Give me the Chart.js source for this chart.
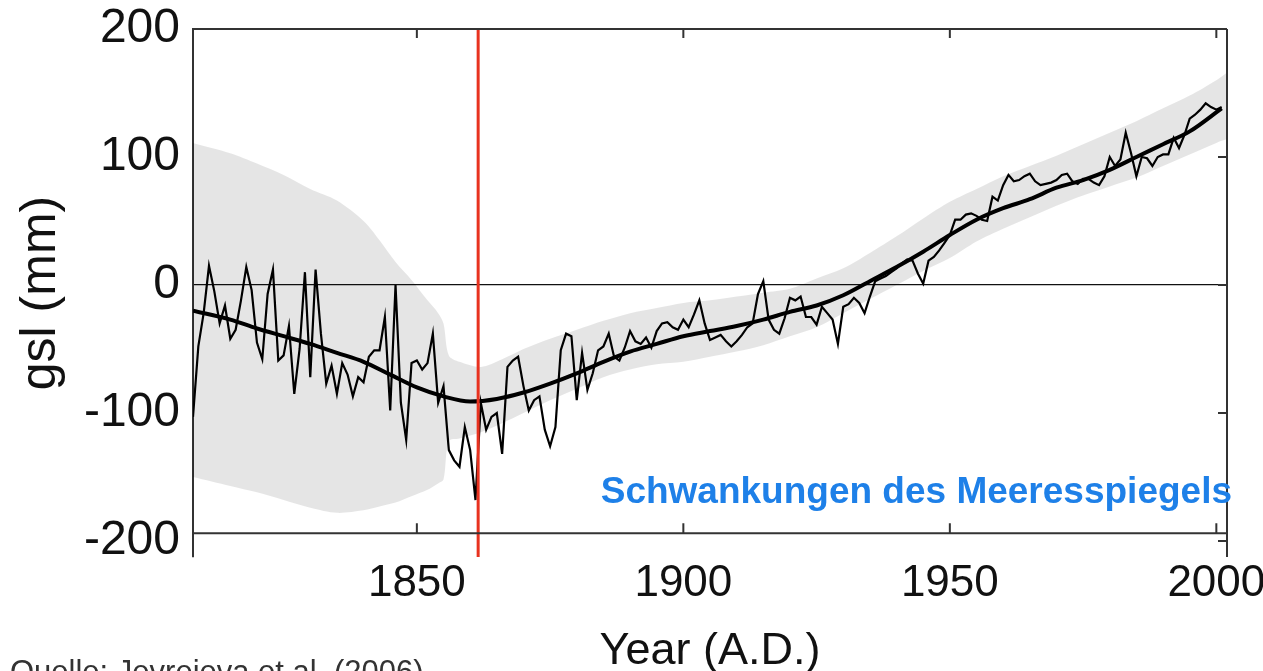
<!DOCTYPE html>
<html><head><meta charset="utf-8">
<script src="https://cdn.jsdelivr.net/npm/chart.js@4.4.0/dist/chart.umd.min.js"></script>
<style>html,body{margin:0;padding:0;background:#fff;overflow:hidden}#wrap{width:1263px;height:671px;position:relative}</style>
</head><body><div id="wrap"><canvas id="c" width="1263" height="671"></canvas></div>
<script>
// ---- data ----
const sealevelYears = [1808,1809,1810,1811,1812,1813,1814,1815,1816,1817,1818,1819,1820,1821,1822,1823,1824,1825,1826,1827,1828,1829,1830,1831,1832,1833,1834,1835,1836,1837,1838,1839,1840,1841,1842,1843,1844,1845,1846,1847,1848,1849,1850,1851,1852,1853,1854,1855,1856,1857,1858,1859,1860,1861,1862,1863,1864,1865,1866,1867,1868,1869,1870,1871,1872,1873,1874,1875,1876,1877,1878,1879,1880,1881,1882,1883,1884,1885,1886,1887,1888,1889,1890,1891,1892,1893,1894,1895,1896,1897,1898,1899,1900,1901,1902,1903,1904,1905,1906,1907,1908,1909,1910,1911,1912,1913,1914,1915,1916,1917,1918,1919,1920,1921,1922,1923,1924,1925,1926,1927,1928,1929,1930,1931,1932,1933,1934,1935,1936,1937,1938,1939,1940,1941,1942,1943,1944,1945,1946,1947,1948,1949,1950,1951,1952,1953,1954,1955,1956,1957,1958,1959,1960,1961,1962,1963,1964,1965,1966,1967,1968,1969,1970,1971,1972,1973,1974,1975,1976,1977,1978,1979,1980,1981,1982,1983,1984,1985,1986,1987,1988,1989,1990,1991,1992,1993,1994,1995,1996,1997,1998,1999,2000,2001];
const sealevelMm = [-103,-48,-22,15,-5,-30,-16,-42,-35,-12,14,-4,-45,-58,-7,12,-59,-55,-32,-85,-50,10,-72,12,-38,-77,-63,-85,-61,-70,-87,-72,-76,-56,-51,-51,-25,-98,0,-92,-121,-61,-59,-66,-61,-38,-92,-79,-129,-137,-142,-111,-129,-168,-92,-113,-103,-100,-132,-64,-59,-56,-79,-98,-90,-87,-113,-126,-111,-51,-38,-40,-90,-53,-82,-69,-51,-48,-38,-56,-59,-49,-36,-44,-46,-41,-49,-36,-30,-29,-33,-35,-27,-33,-23,-12,-30,-43,-41,-39,-44,-48,-44,-39,-33,-30,-7,3,-27,-35,-38,-26,-10,-12,-9,-25,-25,-31,-17,-22,-27,-46,-17,-15,-10,-14,-22,-9,3,5,7,10,13,17,20,19,9,1,19,22,27,33,39,51,51,55,56,54,51,50,69,66,78,86,81,82,85,87,81,78,79,80,82,86,87,81,79,83,83,80,78,85,100,93,98,119,103,85,100,99,93,100,102,102,115,107,117,130,133,137,142,139,137,139];

const trendYears = [1808,1815,1820,1825,1830,1835,1840,1845,1850,1855,1860,1865,1870,1875,1880,1885,1890,1895,1900,1905,1910,1915,1920,1925,1930,1935,1940,1945,1950,1955,1960,1965,1970,1975,1980,1985,1990,1995,2001];
const trendMm = [-20,-27,-34,-40,-46,-53,-60,-70,-80,-87,-91,-89,-84,-77,-69,-60,-52,-46,-40,-36,-32,-27,-21,-16,-8,3,14,26,39,51,60,67,76,82,90,100,110,120,138];

const bandYears = [1808,1815,1820,1825,1830,1835,1840,1843,1846,1849,1852,1854,1855,1856,1858,1862,1866,1870,1875,1880,1885,1890,1895,1900,1905,1910,1915,1920,1925,1930,1935,1940,1945,1950,1955,1960,1965,1970,1975,1980,1985,1990,1995,2000,2002];
const bandUpperMm = [111,103,95,86,75,66,50,35,18,4,-12,-22,-30,-55,-60,-64,-58,-50,-42,-35,-28,-22,-18,-14,-12,-9,-6,-3,5,13,25,38,52,65,75,85,93,101,110,119,128,138,148,160,166];
const bandLowerMm = [-150,-157,-162,-168,-174,-178,-176,-173,-170,-165,-160,-155,-152,-122,-120,-115,-108,-100,-90,-81,-72,-66,-62,-60,-56,-52,-47,-40,-33,-22,-11,0,11,21,34,44,53,62,70,77,84,93,102,111,114];

const markerYear = [1861.5];
const xTickValues = [1850,1900,1950,2000];
const yTickValues = [-200,-100,0,100,200];
const xRange = [1808, 2002];
const yRange = [-212.5, 200];
const frameBottomMm = -194;

// ---- chart ----
const FONT = '"Liberation Sans", Arial, Helvetica, sans-serif';
const pts = (xs, ys) => xs.map((x, i) => ({x: x, y: ys[i]}));

const framePlugin = {
  id: 'frame',
  afterDatasetsDraw(chart) {
    const {ctx, chartArea: a, scales: {x, y}} = chart;
    ctx.save();
    ctx.strokeStyle = '#333';
    ctx.lineWidth = 2;
    const yb = y.getPixelForValue(frameBottomMm);
    ctx.beginPath();
    ctx.moveTo(a.left, a.top); ctx.lineTo(a.right, a.top);
    ctx.moveTo(a.right, a.top); ctx.lineTo(a.right, a.bottom);
    ctx.moveTo(a.left - 1, yb); ctx.lineTo(a.right, yb);
    xTickValues.forEach(v => {
      const px = x.getPixelForValue(v);
      ctx.moveTo(px, yb); ctx.lineTo(px, yb - 10);
      ctx.moveTo(px, a.top); ctx.lineTo(px, a.top + 9);
    });
    yTickValues.forEach(v => {
      if (v <= yRange[0] || v >= yRange[1]) return;
      const py = y.getPixelForValue(v);
      ctx.moveTo(a.right, py); ctx.lineTo(a.right - 9, py);
    });
    ctx.stroke();
    ctx.fillStyle = '#1e80e8';
    ctx.font = 'bold 37px ' + FONT;
    ctx.textAlign = 'right';
    ctx.textBaseline = 'middle';
    ctx.fillText('Schwankungen des Meeresspiegels', 1232, 493);
    ctx.restore();
  },
  afterDraw(chart) {
    const ctx = chart.ctx;
    ctx.save();
    ctx.fillStyle = '#333';
    ctx.font = '31px ' + FONT;
    ctx.textAlign = 'left';
    ctx.textBaseline = 'alphabetic';
    ctx.fillText('Quelle: Jevrejeva et al. (2006)', 10, 682);
    ctx.restore();
  }
};

new Chart(document.getElementById('c'), {
  type: 'line',
  data: {
    datasets: [
      { label: 'marker', data: [{x: markerYear[0], y: yRange[1]}, {x: markerYear[0], y: yRange[0]}],
        borderColor: '#e8321f', borderWidth: 3, pointRadius: 0, fill: false, order: 0 },
      { label: 'trend', data: pts(trendYears, trendMm), borderColor: '#000', borderWidth: 4,
        pointRadius: 0, fill: false, cubicInterpolationMode: 'monotone', order: 1 },
      { label: 'gsl', data: pts(sealevelYears, sealevelMm), borderColor: '#000', borderWidth: 2.2,
        pointRadius: 0, fill: false, tension: 0, order: 2 },
      { label: 'upper', data: pts(bandYears, bandUpperMm), borderWidth: 0, borderColor: 'rgba(0,0,0,0)',
        backgroundColor: 'rgba(0,0,0,0.1)', pointRadius: 0, fill: '+1', tension: 0.3, order: 3 },
      { label: 'lower', data: pts(bandYears, bandLowerMm), borderWidth: 0, borderColor: 'rgba(0,0,0,0)',
        pointRadius: 0, fill: false, tension: 0.3, order: 4 }
    ]
  },
  options: {
    responsive: false,
    animation: false,
    devicePixelRatio: 1,
    layout: { padding: { top: 29, right: 36, left: 0, bottom: 0 } },
    plugins: { legend: { display: false }, tooltip: { enabled: false } },
    scales: {
      x: {
        type: 'linear', min: xRange[0], max: xRange[1],
        afterBuildTicks: s => { s.ticks = xTickValues.map(v => ({value: v})); },
        afterFit: s => { s.height = 114; s.paddingLeft = 0; s.paddingRight = 0; },
        grid: { display: false },
        border: { display: false },
        ticks: { padding: -3, color: '#111', autoSkip: false, maxRotation: 0,
                 font: { family: FONT, size: 44, lineHeight: 1 }, callback: v => String(v) },
        title: { display: true, text: 'Year (A.D.)', color: '#111',
                 font: { family: FONT, size: 45, lineHeight: 1 }, padding: { top: 0, bottom: -3 } }
      },
      y: {
        type: 'linear', min: yRange[0], max: yRange[1],
        afterBuildTicks: s => { s.ticks = yTickValues.map(v => ({value: v})); },
        afterFit: s => { s.width = 193; s.paddingTop = 0; s.paddingBottom = 0; },
        grid: { drawTicks: false, lineWidth: 1.2,
                color: c => (c.tick && c.tick.value === 0) ? '#111' : 'rgba(0,0,0,0)' },
        border: { display: true, color: '#333', width: 2 },
        ticks: { padding: 13, color: '#111', autoSkip: false,
                 font: { family: FONT, size: 48 }, callback: v => String(v) },
        title: { display: true, text: 'gsl (mm)', color: '#111',
                 font: { family: FONT, size: 50, lineHeight: 1 }, padding: { top: 16, bottom: 0 } }
      }
    }
  },
  plugins: [framePlugin]
});
</script></body></html>
